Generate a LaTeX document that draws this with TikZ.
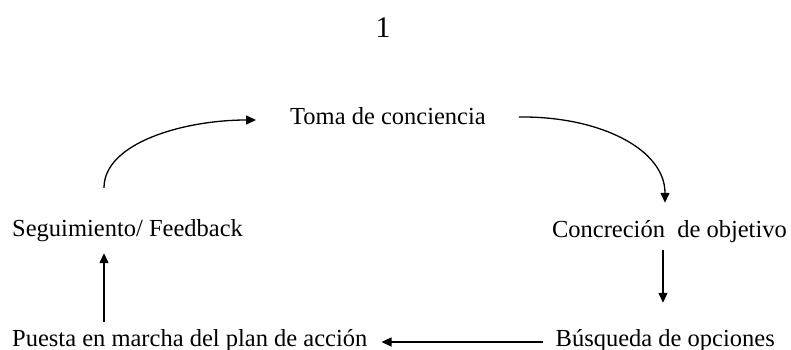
\documentclass[tikz,border=0pt]{standalone}
\usepackage{fontspec}
\setmainfont{Liberation Serif}
\usetikzlibrary{arrows.meta}
\tikzset{lbl/.style={inner sep=0pt,text height=17pt,text depth=5pt,font=\fontsize{24.5}{29}\selectfont},
 arr/.style={line width=1.3pt,-{Triangle[length=10pt,width=9pt]}}}
\begin{document}
\begin{tikzpicture}[x=1pt,y=-1pt]
 \useasboundingbox[fill=white](0,0) rectangle (791,350);
 \node[lbl,anchor=base,font=\fontsize{30}{34}\selectfont](num) at (383,38){1};
 \node[lbl,anchor=base west](toma) at (290,124){Toma de conciencia};
 \node[lbl,anchor=base west](seg) at (12,236){Seguimiento/ Feedback};
 \node[lbl,anchor=base east](conc) at (787,237){Concreción\ \ de objetivo};
 \node[lbl,anchor=base west](puesta) at (12,346){Puesta en marcha del plan de acción};
 \node[lbl,anchor=base east](busq) at (775,346){Búsqueda de opciones};
 % ciclo
 \draw[arr]([xshift=92pt,yshift=31pt]seg.north west) .. controls +(0,-45) and +(-72,0) .. ([xshift=-34pt,yshift=-2pt]toma.west);
 \draw[arr]([xshift=33pt,yshift=1pt]toma.east) .. controls +(80,-1) and +(0,-54) .. ([xshift=-122pt,yshift=17pt]conc.north east);
 \draw[arr]([xshift=-124pt,yshift=-8pt]conc.south east) -- ([xshift=-112pt,yshift=26pt]busq.north east);
 \draw[arr]([xshift=-13pt,yshift=-2pt]busq.west) -- ([xshift=14pt,yshift=-2pt]puesta.east);
 \draw[arr]([xshift=92pt,yshift=7pt]puesta.north west) -- ([xshift=92pt,yshift=-12pt]seg.south west);
\end{tikzpicture}
\end{document}
